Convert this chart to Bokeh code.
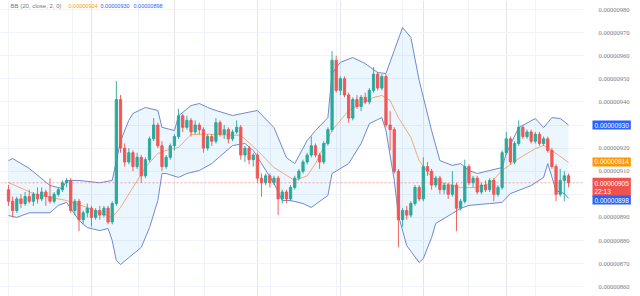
from bokeh.plotting import figure
from bokeh.models import (FixedTicker, Range1d, Span, Label, LabelSet, Grid, ColumnDataSource,
                          BoxAnnotation)
from bokeh.embed import file_html
from bokeh.resources import INLINE

# prices in units of 1e-8 (905 -> 0.00000905)
opens = [902, 897, 893, 898, 896, 899, 897, 900, 898, 901, 899, 897, 900, 902, 905, 906, 893, 897, 889, 892,
         894, 890, 893, 891, 894, 888, 896, 941, 920, 914, 918, 912, 916, 908, 915, 924, 930, 921, 912, 916,
         921, 925, 934, 929, 932, 927, 930, 928, 920, 925, 923, 931, 926, 928, 924, 927, 929, 917, 920, 915,
         917, 907, 905, 908, 905, 907, 898, 901, 898, 903, 907, 910, 914, 917, 921, 917, 914, 922, 928, 958,
         945, 950, 943, 933, 941, 938, 942, 940, 945, 952, 946, 951, 930, 928, 910, 889, 893, 891, 896, 903,
         898, 912, 910, 904, 907, 902, 904, 900, 904, 894, 897, 912, 905, 907, 901, 904, 902, 906, 900, 903,
         918, 924, 914, 922, 929, 925, 927, 923, 926, 922, 924, 919, 912, 900, 906, 908]
highs = [904, 899, 899, 900, 901, 902, 901, 903, 903, 902, 907, 901, 903, 906, 907, 907, 898, 898, 893, 896,
         895, 894, 895, 895, 895, 897, 949, 943, 922, 920, 919, 918, 917, 916, 925, 933, 931, 923, 917, 922,
         926, 937, 935, 934, 933, 932, 931, 929, 926, 926, 933, 932, 930, 929, 928, 932, 930, 921, 921, 918,
         918, 909, 909, 909, 908, 908, 902, 902, 904, 908, 911, 915, 918, 925, 922, 918, 923, 929, 962, 960,
         951, 951, 944, 942, 943, 943, 944, 946, 955, 953, 952, 952, 936, 929, 911, 894, 895, 897, 904, 904,
         916, 914, 911, 908, 908, 905, 905, 910, 905, 898, 915, 913, 908, 908, 905, 906, 907, 907, 904, 919,
         927, 925, 923, 932, 930, 928, 928, 927, 927, 925, 925, 920, 913, 911, 910, 909]
lows = [895, 890, 892, 894, 895, 896, 895, 896, 897, 895, 896, 896, 899, 901, 903, 892, 891, 884, 887, 890,
        886, 889, 889, 890, 887, 887, 895, 918, 912, 913, 910, 911, 905, 907, 914, 923, 920, 910, 911, 915,
        919, 924, 927, 928, 925, 926, 926, 918, 919, 921, 922, 925, 924, 922, 923, 926, 915, 914, 913, 912,
        905, 899, 904, 903, 904, 891, 896, 896, 897, 902, 906, 909, 913, 916, 916, 911, 913, 921, 927, 944,
        943, 942, 931, 932, 937, 936, 939, 939, 944, 945, 945, 929, 919, 909, 877, 886, 889, 890, 895, 897,
        897, 908, 902, 903, 900, 900, 898, 899, 884, 893, 896, 904, 903, 900, 900, 901, 901, 897, 899, 902,
        917, 913, 913, 921, 924, 924, 922, 922, 921, 921, 918, 911, 897, 899, 897, 903]
closes = [897, 893, 898, 896, 899, 897, 900, 898, 901, 899, 897, 900, 902, 905, 906, 893, 897, 889, 892, 894,
          890, 893, 891, 894, 888, 896, 941, 920, 914, 918, 912, 916, 908, 915, 924, 930, 921, 912, 916, 921,
          925, 934, 929, 932, 927, 930, 928, 920, 925, 923, 931, 926, 928, 924, 927, 929, 917, 920, 915, 917,
          907, 905, 908, 905, 907, 898, 901, 898, 903, 907, 910, 914, 917, 921, 917, 914, 922, 928, 958, 945,
          950, 943, 933, 941, 938, 942, 940, 945, 952, 946, 951, 930, 928, 910, 889, 893, 891, 896, 903, 898,
          912, 910, 904, 907, 902, 904, 900, 904, 894, 897, 912, 905, 907, 901, 904, 902, 906, 900, 903, 918,
          924, 914, 922, 929, 925, 927, 923, 926, 922, 924, 919, 912, 900, 906, 908, 905]

upper_idx = [0, 1, 5, 10, 13, 14, 17, 22, 25, 27, 29, 30, 33, 36, 37, 40, 41, 44, 46, 48, 50, 54, 60, 64, 67,
             69, 72, 74, 77, 78, 80, 83, 86, 89, 91, 93, 95, 97, 99, 102, 104, 107, 109, 111, 113, 116, 119,
             120, 123, 127, 129, 131, 133, 135]
upper_val = [914.6, 915.5, 911.2, 903.8, 902.5, 906, 906, 905, 906, 923, 932, 935, 937.6, 936.3, 929, 927.6,
             934, 938.4, 939.3, 937.6, 936.3, 934.1, 936.3, 928.9, 915.9, 913.3, 923.3, 927.6, 933.2, 952.3,
             957.1, 959.2, 956.6, 952.7, 952.3, 962.3, 972.2, 967.9, 949.3, 927.6, 914.6, 912.5, 913.3, 910.3,
             909, 910.3, 911.6, 917.7, 928.9, 932.8, 928.9, 933.2, 932.8, 930]
lower_idx = [0, 2, 5, 10, 12, 14, 17, 19, 22, 24, 25, 26, 27, 29, 32, 34, 36, 37, 38, 41, 43, 46, 49, 54, 57,
             59, 61, 64, 66, 68, 71, 73, 77, 78, 82, 85, 87, 90, 91, 93, 94, 96, 99, 100, 102, 103, 107, 109,
             111, 116, 119, 121, 126, 129, 130, 132, 134, 135]
lower_val = [890.8, 890, 892, 892, 895.2, 896.5, 888.7, 885.6, 884.3, 885.2, 880, 871.3, 869.6, 872.6, 877,
             885.6, 897.3, 909, 909, 907.3, 909, 910.3, 913.3, 921.1, 922, 919, 913.3, 904.7, 897.3, 897.3, 896,
             894.3, 899.5, 909, 913.3, 922, 930.6, 933.2, 927.6, 906, 890.8, 877.8, 870.5, 872.2, 881.3, 887.4,
             891.7, 893.9, 895.2, 896, 896.5, 900.3, 903.8, 907.3, 913.3, 901.6, 900.3, 898.2]
mid_idx = [0, 6, 14, 19, 25, 27, 30, 33, 36, 38, 41, 44, 48, 56, 60, 64, 69, 72, 74, 78, 82, 88, 90, 92, 94,
           97, 99, 102, 105, 109, 113, 116, 119, 123, 127, 129, 131, 135]
mid_val = [905.1, 900.3, 897.3, 894.3, 890, 894.3, 903, 911.6, 917.7, 919, 920.3, 925.9, 926, 925.5, 919,
           911.6, 906, 908, 913.3, 927.6, 936.3, 941.9, 942.8, 940.6, 933.2, 924.6, 914.6, 907.3, 904.7, 902.9,
           902.9, 904.7, 910.3, 915.5, 919.8, 921.1, 919, 913.8]

y_ticks = [860, 870, 880, 890, 900, 910, 920, 930, 940, 950, 960, 970, 980]
y_tick_labels = ["0.00000860", "0.00000870", "0.00000880", "0.00000890", "0.00000900", "0.00000910",
                 "0.00000920", "0.00000930", "0.00000940", "0.00000950", "0.00000960", "0.00000970",
                 "0.00000980"]
hidden_ticks = [900, 930]
last_close = 905
last_close_label = "0.00000905"
countdown = "22:13"
basis_last, basis_label = 914, "0.00000914"
upper_last, upper_label = 930, "0.00000930"
lower_last, lower_label = 898, "0.00000898"
legend_title = "BB (20, close, 2, 0)"

UP, DOWN = "#26a69a", "#ef5350"
BAND, BASIS, FILL = "#6f88d2", "#ff6d00", "#2196f3"
GRID = "#f0f3fa"
FONT = "Liberation Sans"
PRICE_SCALE_X = 583  # left edge of the price scale, px

p = figure(width=640, height=296, output_backend="svg", toolbar_location=None,
           x_range=Range1d(-1.93, 152.36), y_range=Range1d(855.76, 983.9),
           x_axis_location=None, y_axis_location=None,
           min_border=0)
p.outline_line_color = None
p.background_fill_color = "white"

p.add_layout(Grid(dimension=1, ticker=FixedTicker(ticks=y_ticks), grid_line_color=GRID))
p.add_layout(Grid(dimension=0, ticker=FixedTicker(ticks=[0, 15.4, 31.3, 47.3, 63.2, 79.1, 95, 111, 127]),
                  grid_line_color=GRID))

# band fill
p.patch(x=upper_idx + lower_idx[::-1], y=upper_val + lower_val[::-1],
        fill_color=FILL, fill_alpha=0.09, line_color=None)
p.line(upper_idx, upper_val, line_color=BAND, line_width=1)
p.line(lower_idx, lower_val, line_color=BAND, line_width=1)
p.line(mid_idx, mid_val, line_color=BASIS, line_width=1, line_alpha=0.55)

idx = list(range(len(closes)))
colors = [UP if c >= o else DOWN for o, c in zip(opens, closes)]
src = ColumnDataSource(dict(x=idx, o=opens, h=highs, l=lows, c=closes,
                            top=[max(o, c) for o, c in zip(opens, closes)],
                            bot=[min(o, c) for o, c in zip(opens, closes)], col=colors))
p.segment(x0="x", y0="l", x1="x", y1="h", line_color="col", line_width=1, line_alpha=0.9, source=src)
p.vbar(x="x", width=0.55, top="top", bottom="bot", fill_color="col", line_color="col",
       fill_alpha=0.9, line_alpha=0.9, source=src)

p.add_layout(Span(location=last_close, dimension="width", line_color=DOWN, line_alpha=0.5,
                  line_dash="2 2", line_width=1))

# price-scale area (white panel on the right)
p.add_layout(BoxAnnotation(left=PRICE_SCALE_X, left_units="screen", fill_color="white", fill_alpha=1,
                           line_color=None))

shown = [t for t in y_ticks if t not in hidden_ticks]
tick_src = ColumnDataSource(dict(y=shown, text=[y_tick_labels[y_ticks.index(t)] for t in shown]))
p.add_layout(LabelSet(x=598, y="y", text="text", x_units="screen", y_units="data", source=tick_src,
                      text_font=FONT, text_font_size="6.5px", text_color="#787b86",
                      text_baseline="middle", text_align="left"))

def tag(yv, text, bg):
    p.add_layout(Label(x=592, y=yv, x_units="screen", y_units="data", text=text,
                       text_font=FONT, text_font_size="6.5px", text_color="white",
                       text_baseline="middle", text_align="left",
                       background_fill_color=bg, padding=2))

tag(upper_last, upper_label, "#2962ff")
tag(basis_last, basis_label, "#ff9800")
tag(last_close - 2, last_close_label + "\n" + countdown, DOWN)
tag(lower_last - 0.5, lower_label, "#2962ff")

def legend(x, text, color, size):
    p.add_layout(Label(x=x, y=291, x_units="screen", y_units="screen", text=text,
                       text_font=FONT, text_font_size=size, text_color=color,
                       text_baseline="middle", text_align="left"))

legend(10, legend_title, "#787b86", "6px")
legend(68, basis_label, "#ff9800", "5.5px")
legend(100, upper_label, "#2962ff", "5.5px")
legend(133, lower_label, "#2962ff", "5.5px")

open("out.html", "w").write(file_html(p, INLINE))
